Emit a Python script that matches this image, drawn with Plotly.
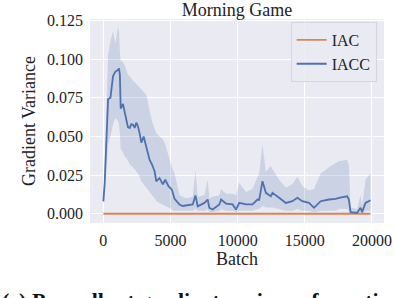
import plotly.graph_objects as go

# ---- data ----
batch = [0, 100, 350, 525, 720, 895, 1090, 1165, 1230, 1290, 1460, 1590, 1715, 1830, 1960,
         2085, 2205, 2330, 2455, 2575, 2700, 2825, 3000, 3200, 3440, 3615, 3815, 3940, 4185,
         4430, 4605, 4850, 5100, 5300, 5665, 5910, 6165, 6654, 6855, 7025, 7522, 7767, 7893,
         8138, 8635, 8761, 9132, 9622, 9874, 10119, 10616, 11105, 11476, 11602, 11847, 12100,
         12470, 12589, 13086, 13583, 14073, 14444, 14815, 15312, 15682, 16180, 16795, 17292,
         17537, 18153, 18279, 18405, 18895, 19147, 19266, 19518, 19889]
iacc_mean = [0.008, 0.020, 0.074, 0.075, 0.089, 0.092, 0.093, 0.094, 0.090, 0.068, 0.071, 0.066,
             0.060, 0.056, 0.0555, 0.058, 0.0576, 0.0555, 0.059, 0.0565, 0.052, 0.046, 0.050,
             0.0426, 0.035, 0.032, 0.0275, 0.021, 0.023, 0.019, 0.022, 0.0178, 0.0156, 0.0096,
             0.006, 0.005, 0.0053, 0.006, 0.0118, 0.0048, 0.007, 0.0092, 0.0038, 0.0027, 0.006,
             0.0092, 0.0066, 0.006, 0.0027, 0.007, 0.006, 0.006, 0.0092, 0.009, 0.021, 0.0135,
             0.0113, 0.0135, 0.0103, 0.007, 0.0081, 0.0103, 0.0081, 0.007, 0.0038, 0.0081,
             0.0092, 0.0096, 0.0103, 0.0113, 0.0092, 0.001, 0.0006, 0.0038, 0.001, 0.007, 0.0087]
iacc_low = [0.006, 0.012, 0.045, 0.050, 0.058, 0.062, 0.060, 0.058, 0.052, 0.042, 0.040, 0.037,
            0.036, 0.034, 0.032, 0.031, 0.030, 0.029, 0.027, 0.026, 0.024, 0.021, 0.019, 0.017,
            0.014, 0.012, 0.010, 0.008, 0.007, 0.006, 0.005, 0.004, 0.003, 0.002, 0.002, 0.002,
            0.002, 0.002, 0.003, 0.002, 0.002, 0.003, 0.001, 0.001, 0.002, 0.003, 0.002, 0.002,
            0.001, 0.002, 0.002, 0.002, 0.003, 0.003, 0.005, 0.004, 0.004, 0.004, 0.003, 0.002,
            0.002, 0.003, 0.002, 0.002, 0.001, 0.002, 0.002, 0.002, 0.003, 0.003, 0.002, 0.000,
            0.000, 0.001, 0.000, 0.002, 0.002]
iacc_high = [0.010, 0.030, 0.102, 0.112, 0.118, 0.110, 0.121, 0.118, 0.105, 0.099, 0.098, 0.096,
             0.093, 0.090, 0.089, 0.087, 0.086, 0.085, 0.084, 0.083, 0.082, 0.081, 0.079, 0.077,
             0.066, 0.060, 0.055, 0.052, 0.050, 0.048, 0.045, 0.038, 0.030, 0.026, 0.012, 0.011,
             0.010, 0.011, 0.028, 0.011, 0.012, 0.022, 0.010, 0.011, 0.012, 0.016, 0.013, 0.013,
             0.012, 0.020, 0.014, 0.016, 0.023, 0.026, 0.045, 0.027, 0.031, 0.029, 0.022, 0.017,
             0.019, 0.024, 0.018, 0.015, 0.016, 0.026, 0.030, 0.033, 0.034, 0.035, 0.031, 0.004,
             0.003, 0.012, 0.005, 0.022, 0.026]
iac_batch = [0, 19889]
iac_value = [0.0, 0.0]

title_text = "Morning Game"
x_label = "Batch"
y_label = "Gradient Variance"
caption = "(c) Per-rollout gradient variance for actions"
x_ticks = [0, 5000, 10000, 15000, 20000]
x_ticktext = ["0", "5000", "10000", "15000", "20000"]
y_ticks = [0.0, 0.025, 0.05, 0.075, 0.1, 0.125]

BLUE = "#4C72B0"
ORANGE = "#DD8452"
FONT = "Liberation Serif, Times New Roman, serif"

fig = go.Figure()
fig.add_trace(go.Scatter(x=batch, y=iacc_high, mode="lines", line=dict(width=0),
                         showlegend=False, hoverinfo="skip"))
fig.add_trace(go.Scatter(x=batch, y=iacc_low, mode="lines", line=dict(width=0),
                         fill="tonexty", fillcolor="rgba(76,114,176,0.2)",
                         showlegend=False, hoverinfo="skip"))
fig.add_trace(go.Scatter(x=iac_batch, y=iac_value, mode="lines", name="IAC",
                         line=dict(color=ORANGE, width=1.8)))
fig.add_trace(go.Scatter(x=batch, y=iacc_mean, mode="lines", name="IACC",
                         line=dict(color=BLUE, width=1.8)))

fig.update_layout(
    width=394, height=298,
    margin=dict(l=90, r=10, t=19, b=75),
    paper_bgcolor="white", plot_bgcolor="#EAEAF2",
    font=dict(family=FONT, size=16, color="#222222"),
    title=dict(text=title_text, x=0.5, xref="paper", xanchor="center",
               y=1, yref="paper", yanchor="bottom", pad=dict(b=3),
               font=dict(size=18), automargin=False),
    showlegend=True,
    legend=dict(x=0.975, xanchor="right", y=0.985, yanchor="top", traceorder="normal",
                bgcolor="rgba(234,234,242,0.85)", bordercolor="#d6d6e0", borderwidth=1,
                font=dict(size=16), tracegroupgap=0),
    xaxis=dict(range=[-995, 20895], tickvals=x_ticks, ticktext=x_ticktext, showgrid=True,
               gridcolor="white", gridwidth=1.2, zeroline=False, showline=False, ticks="",
               ticklabelstandoff=6, automargin=False,
               title=dict(text=x_label, standoff=2, font=dict(size=18))),
    yaxis=dict(range=[-0.006, 0.126], tickvals=y_ticks, tickformat=".3f", showgrid=True,
               gridcolor="white", gridwidth=1.2, zeroline=False, showline=False, ticks="",
               ticklabelstandoff=6, automargin=False,
               title=dict(text=y_label, standoff=6, font=dict(size=18))),
    annotations=[dict(text="<b>" + caption + "</b>", xref="paper", yref="paper",
                      x=-0.306, y=-0.31, xanchor="left", yanchor="top", showarrow=False,
                      font=dict(family=FONT, size=22, color="#111111"))],
)

fig.write_html("out.html", config={"displayModeBar": False},
               post_script="document.body.style.margin='0';")
